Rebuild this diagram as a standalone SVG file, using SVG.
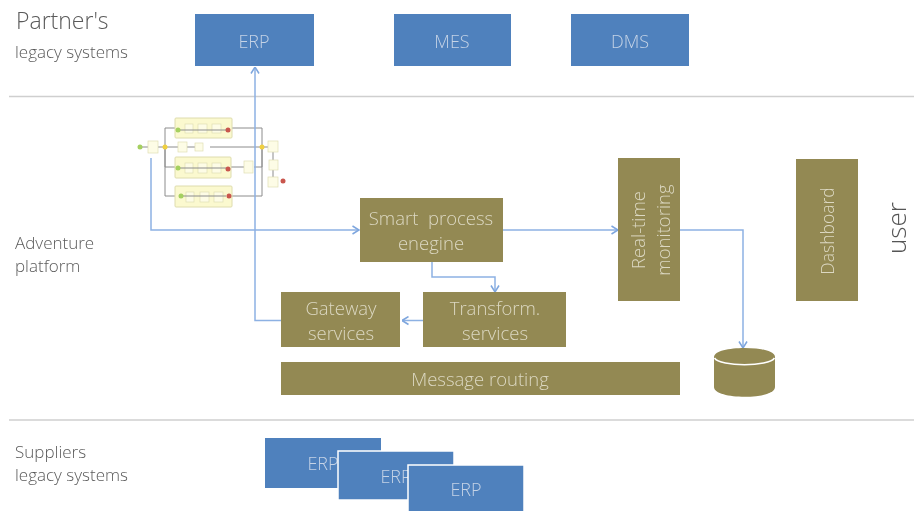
<svg xmlns="http://www.w3.org/2000/svg" width="914" height="511" viewBox="0 0 914 511">
<defs>
<style>
text{font-family:"Open Sans","Noto Sans","Liberation Sans",sans-serif;font-weight:300}
.blue{fill:#4f81bd}
.olive{fill:#938953}
.lb{fill:#5a5a5a;font-size:17px}
.bt{fill:#c5d3e6;font-size:18px;text-anchor:middle}
.ot{fill:#dcd8c2;font-size:18.500px;text-anchor:middle}
.sep{stroke:#cfcfcf;stroke-width:1.5;fill:none}
.c{fill:none;stroke:#8db1e3;stroke-width:1.5}
.g{fill:none;stroke:#8c8c8c;stroke-width:1}
.sw{fill:#fbf9cf;stroke:#dedcae;stroke-width:1}
.t{fill:#fdfce6;stroke:#e0deb4;stroke-width:.7}
</style>
<marker id="ah" viewBox="0 0 8 10" refX="7.5" refY="5" markerWidth="8" markerHeight="10" markerUnits="userSpaceOnUse" orient="auto"><path d="M1 1L7.5 5L1 9" fill="none" stroke="#7ea6de" stroke-width="1.5"/></marker>
<filter id="bl" x="-5%" y="-5%" width="110%" height="110%"><feGaussianBlur stdDeviation="0.7"/></filter>
<filter id="soft" filterUnits="userSpaceOnUse" x="0" y="0" width="914" height="511"><feGaussianBlur stdDeviation="0.4"/></filter>
</defs>
<rect width="914" height="511" fill="#fff"/>
<g id="picture" filter="url(#soft)">
<path class="sep" d="M9 96.500H914M9 420H914"/>

<g id="lane-labels">
<text x="16" y="29" class="lb" style="font-size:23px">Partner's</text>
<text x="15" y="58" class="lb">legacy systems</text>
<text x="15" y="249" class="lb">Adventure</text>
<text x="15" y="272" class="lb">platform</text>
<text x="15" y="458" class="lb">Suppliers</text>
<text x="15" y="481" class="lb">legacy systems</text>
</g>

<g id="bpmn-thumbnail" filter="url(#bl)">
<path class="g" d="M141 147H203M210 147H262M165 147V128H175M165 147V167H175M165 147V196H175M231 128H262V147M231 167H244M254 167H262V147M231 196H262V147M262 147H268M273 152V177"/>
<rect class="sw" x="175" y="118" width="57" height="20" rx="1"/>
<rect class="sw" x="175" y="157" width="56" height="21" rx="1"/>
<rect class="sw" x="175" y="186" width="57" height="21" rx="1"/>
<g class="t"><rect x="148" y="141" width="10" height="12"/><rect x="178" y="142" width="9" height="10"/><rect x="195" y="143" width="8" height="8"/><rect x="244" y="161" width="9" height="12"/><rect x="268" y="141" width="10" height="11"/><rect x="269" y="160" width="9" height="10"/><rect x="268" y="177" width="10" height="10"/>
<rect x="185" y="124" width="8" height="9"/><rect x="198" y="124" width="9" height="9"/><rect x="212" y="124" width="9" height="9"/>
<rect x="185" y="163" width="8" height="10"/><rect x="198" y="163" width="9" height="10"/><rect x="212" y="163" width="9" height="10"/>
<rect x="186" y="192" width="8" height="10"/><rect x="200" y="192" width="9" height="10"/><rect x="214" y="192" width="9" height="10"/></g>
<path class="g" d="M179 130H226M179 168H226M181 196H226"/>
<g fill="#a5d060"><circle cx="140" cy="147" r="2.500"/><circle cx="178" cy="130" r="2.500"/><circle cx="178" cy="168" r="2.500"/><circle cx="181" cy="196" r="2.500"/></g>
<g fill="#c9564e"><circle cx="228" cy="130" r="2.500"/><circle cx="228" cy="169" r="2.500"/><circle cx="229" cy="196" r="2.500"/><circle cx="283" cy="181" r="2.500"/></g>
<g fill="#f0d040"><circle cx="165" cy="147" r="2.500"/><circle cx="262" cy="147" r="2.500"/></g>
</g>

<g id="connectors">
<path class="c" d="M281 320.500H255V67" marker-end="url(#ah)"/>
<path class="c" d="M151 158V230H359" marker-end="url(#ah)"/>
<path class="c" d="M503 230H618" marker-end="url(#ah)"/>
<path class="c" d="M680 230H743V348" marker-end="url(#ah)"/>
<path class="c" d="M432 262V277H495V292" marker-end="url(#ah)"/>
<path class="c" d="M423 320.500H402" marker-end="url(#ah)"/>
</g>

<g id="node-erp"><rect class="blue" x="195" y="14" width="119" height="52"/><text class="bt" x="254" y="48">ERP</text></g>
<g id="node-mes"><rect class="blue" x="394" y="14" width="117" height="52"/><text class="bt" x="452" y="48">MES</text></g>
<g id="node-dms"><rect class="blue" x="571" y="14" width="118" height="52"/><text class="bt" x="630" y="48">DMS</text></g>

<g id="node-smart"><rect class="olive" x="360" y="198" width="143" height="64"/><text class="ot" x="431" y="225" xml:space="preserve">Smart  process</text><text class="ot" x="431" y="250">enegine</text></g>
<g id="node-gateway"><rect class="olive" x="281" y="292" width="119" height="55"/><text class="ot" x="341" y="315">Gateway</text><text class="ot" x="341" y="340">services</text></g>
<g id="node-transform"><rect class="olive" x="423" y="292" width="143" height="55"/><text class="ot" x="495" y="315">Transform.</text><text class="ot" x="495" y="340">services</text></g>
<g id="node-routing"><rect class="olive" x="281" y="362" width="399" height="33"/><text class="ot" x="480" y="386">Message routing</text></g>
<g id="node-monitoring"><rect class="olive" x="618" y="158" width="62" height="143"/><text class="ot" transform="translate(645 230) rotate(-90)">Real-time</text><text class="ot" transform="translate(670 230) rotate(-90)">monitoring</text></g>
<g id="node-dashboard"><rect class="olive" x="796" y="159" width="62" height="142"/><text class="ot" style="font-size:17.500px" transform="translate(834 231) rotate(-90)">Dashboard</text></g>
<g id="node-db"><path class="olive" d="M714 357C714 345 775 345 775 357V387C775 400 714 400 714 387Z"/><path d="M714.500 358C720 367 769 367 774.500 358" fill="none" stroke="#fff" stroke-width="1.500"/></g>
<g id="node-user"><text transform="translate(906 254) rotate(-90)" style="font-size:26px;fill:#555">user</text></g>

<g id="node-erp-s1"><rect class="blue" x="265" y="438" width="116" height="50"/><text class="bt" x="323" y="470">ERP</text></g>
<g id="node-erp-s2"><rect class="blue" x="338" y="451" width="116" height="49" stroke="#fff" stroke-width="1.500"/><text class="bt" x="396" y="483">ERP</text></g>
<g id="node-erp-s3"><rect class="blue" x="408" y="465" width="116" height="50" stroke="#fff" stroke-width="1.500"/><text class="bt" x="466" y="496">ERP</text></g>
</g>
</svg>
